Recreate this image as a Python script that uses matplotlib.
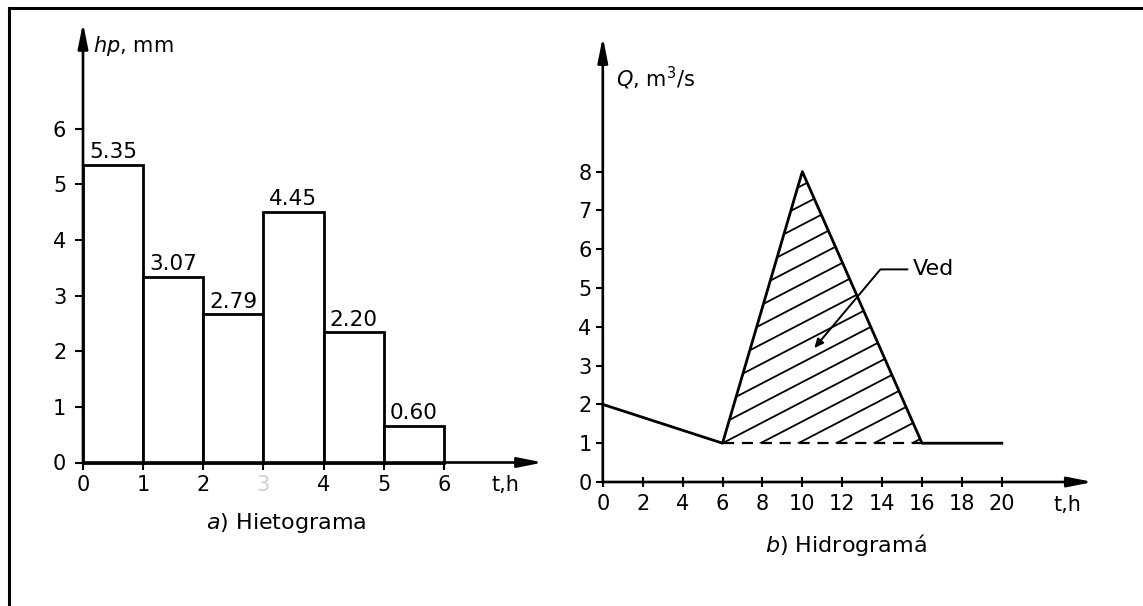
import numpy as np
import matplotlib
matplotlib.use('Agg')
import matplotlib.pyplot as plt
from matplotlib.patches import Polygon
from matplotlib.lines import Line2D

plt.rcParams['font.family'] = ['DejaVu Sans']

# ---------------- data ----------------
# a) Hietograma
hour_start = [0, 1, 2, 3, 4, 5]
hp_drawn = [5.35, 3.33, 2.66, 4.50, 2.34, 0.66]          # bar heights as drawn
hp_labels = ['5.35', '3.07', '2.79', '4.45', '2.20', '0.60']
hyeto_xticks = [0, 1, 2, 3, 4, 5, 6]
hyeto_yticks = [0, 1, 2, 3, 4, 5, 6]

# b) Hidrograma
hydro_t = [0, 6, 10, 16, 20]
hydro_q = [2, 1, 8, 1, 1]
direct_t = [6, 10, 16]
direct_q = [1, 8, 1]
base_q = 1
hydro_xticks = [0, 2, 4, 6, 8, 10, 12, 14, 16, 18, 20]
hydro_yticks = [0, 1, 2, 3, 4, 5, 6, 7, 8]

# ---------------- figure ----------------
W, H = 1143, 606
fig = plt.figure(figsize=(W / 100, H / 100), dpi=100)
fig.patch.set_facecolor('white')

def px(x, y):
    return x / W, 1 - y / H

def arrow_axes(ax):
    for s in ax.spines.values():
        s.set_visible(False)
    ap = dict(arrowstyle='-|>,head_length=1.0,head_width=0.2', lw=1.9,
              color='k', shrinkA=0, shrinkB=0, mutation_scale=15)
    ax.annotate('', xy=(1, 0), xytext=(0, 0), xycoords='axes fraction',
                arrowprops=ap, annotation_clip=False)
    ax.annotate('', xy=(0, 1), xytext=(0, 0), xycoords='axes fraction',
                arrowprops=ap, annotation_clip=False)

# ---- left panel ----
ax1 = fig.add_axes([83 / W, 1 - 462.5 / H, 460 / W, 439.6 / H])
ax1.set_xlim(0, 7.65)
ax1.set_ylim(0, 7.9)
bars = ax1.bar(hour_start, hp_drawn, width=1, align='edge', facecolor='white',
               edgecolor='black', linewidth=2.0, clip_on=False, zorder=2)
for x, h, lab in zip(hour_start, hp_drawn, hp_labels):
    ax1.annotate(lab, (x + 0.5, h), xytext=(0, 2), textcoords='offset points',
                 ha='center', va='bottom', fontsize=15.5)
ax1.set_xticks(hyeto_xticks)
ax1.set_yticks(hyeto_yticks)
ax1.tick_params(axis='x', direction='out', length=5, width=1.5, labelsize=15, pad=4)
ax1.tick_params(axis='y', direction='out', length=6, width=1.5, labelsize=15, pad=6)
ax1.get_xticklabels()[3].set_color('#cfcfcf')
arrow_axes(ax1)

# ---- right panel ----
ax2 = fig.add_axes([602.8 / W, 1 - 482 / H, 490 / W, 445 / H])
ax2.set_xlim(0, 24.56)
ax2.set_ylim(0, 11.47)
ax2.plot(hydro_t, hydro_q, color='k', lw=2.0, clip_on=False, zorder=3)
ax2.plot([direct_t[0], direct_t[-1]], [base_q, base_q], color='k', lw=1.6,
         dashes=(5, 3.5), zorder=3)

tri = Polygon(np.column_stack([direct_t, direct_q]), closed=True,
              transform=ax2.transData, fill=False, edgecolor='none')
ax2.add_patch(tri)
hatch_dx = 1.9
hatch_slope = 0.267
for k in range(-14, 6):
    x0 = direct_t[0] + k * hatch_dx
    if x0 >= direct_t[-1]:
        continue
    xs = np.array([x0, direct_t[-1] + 1])
    ys = base_q + hatch_slope * (xs - x0)
    ln, = ax2.plot(xs, ys, color='k', lw=1.3, zorder=2)
    ln.set_clip_path(tri)

ax2.annotate('Ved', xy=(10.6, 3.45), xytext=(15.55, 5.48), ha='left', va='center',
             fontsize=16,
             arrowprops=dict(arrowstyle='-|>,head_length=0.45,head_width=0.2',
                             color='k', lw=1.4, shrinkA=2, shrinkB=0,
                             mutation_scale=12,
                             connectionstyle='angle,angleA=180,angleB=50,rad=0'))

ax2.set_xticks(hydro_xticks)
ax2.set_yticks(hydro_yticks)
ax2.tick_params(axis='x', direction='inout', length=7, width=1.5, labelsize=15, pad=5)
ax2.tick_params(axis='y', direction='out', length=5, width=1.5, labelsize=15, pad=3)
arrow_axes(ax2)

# ---- texts ----
fig.text(*px(93, 46), r'$\mathit{hp}$, mm', fontsize=15, ha='left', va='center')
fig.text(*px(505, 485), 't,h', fontsize=15, ha='center', va='center')
fig.text(*px(286, 523), r'$\mathit{a}$) Hietograma', fontsize=16, ha='center', va='center')

fig.text(*px(616, 78), r'$\mathit{Q}$, m$^{3}$/s', fontsize=15, ha='left', va='center')
fig.text(*px(1067, 505), 't,h', fontsize=15, ha='center', va='center')
fig.text(*px(846, 545), r'$\mathit{b}$) Hidrogramá', fontsize=16, ha='center', va='center')

# ---- frame (top and left edges of the scanned box) ----
fig.add_artist(Line2D([9 / W, 1], [1 - 8 / H, 1 - 8 / H], transform=fig.transFigure,
                      color='k', lw=2.2))
fig.add_artist(Line2D([9 / W, 9 / W], [0, 1 - 8 / H], transform=fig.transFigure,
                      color='k', lw=2.2))

fig.savefig('out.png', dpi=100, facecolor='white')
